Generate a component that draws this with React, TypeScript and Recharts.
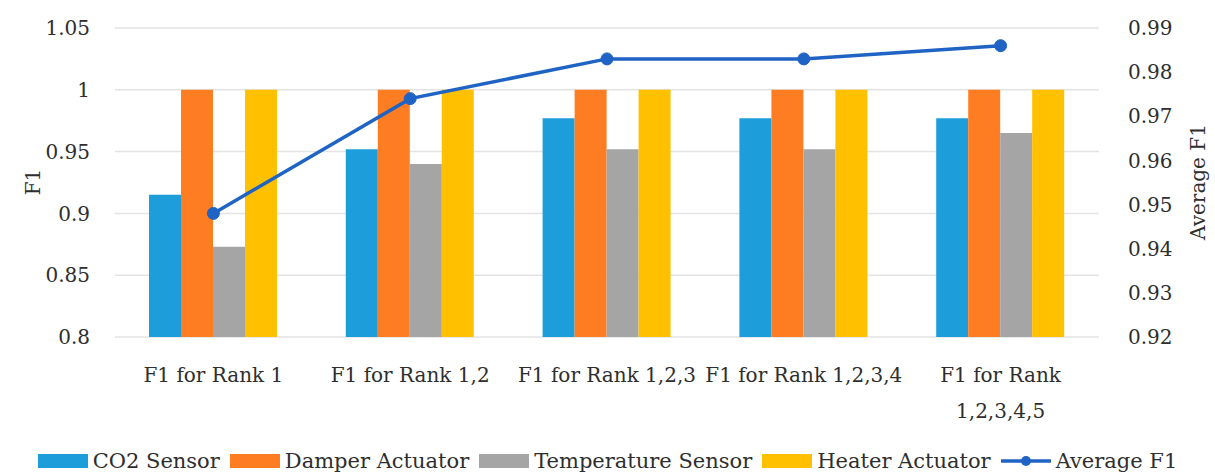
import React from 'react';
import { ComposedChart, Bar, Line, XAxis, YAxis, CartesianGrid, Legend } from 'recharts';

const categories = ['F1 for Rank 1', 'F1 for Rank 1,2', 'F1 for Rank 1,2,3', 'F1 for Rank 1,2,3,4', 'F1 for Rank\n1,2,3,4,5'];
const co2Sensor = [0.915, 0.952, 0.977, 0.977, 0.977];
const damperActuator = [1, 1, 1, 1, 1];
const temperatureSensor = [0.873, 0.94, 0.952, 0.952, 0.965];
const heaterActuator = [1, 1, 1, 1, 1];
const averageF1 = [0.948, 0.974, 0.983, 0.983, 0.986];
const leftTicks = [0.8, 0.85, 0.9, 0.95, 1, 1.05];
const rightTicks = [0.92, 0.93, 0.94, 0.95, 0.96, 0.97, 0.98, 0.99];

const data = categories.map((c, i) => ({
  name: c,
  co2: co2Sensor[i],
  damper: damperActuator[i],
  temp: temperatureSensor[i],
  heater: heaterActuator[i],
  avg: averageF1[i],
}));

const FONT = 'DejaVu Serif';
const TEXT = '#2e2e2e';
const FS = 20;

const COLORS = {
  co2: '#1E9DDB',
  damper: '#FF7D22',
  temp: '#A5A5A5',
  heater: '#FFC000',
  avg: '#1F63C4',
};

const XTick = (props: any) => {
  const { x, y, payload } = props;
  const lines = String(payload.value).split('\n');
  return (
    <g>
      {lines.map((l, i) => (
        <text key={i} x={x} y={y + 38 + i * 36} textAnchor="middle" dominantBaseline="central"
          style={{ fontFamily: FONT }} fontSize={FS} fill={TEXT}>{l}</text>
      ))}
    </g>
  );
};

const legendItems = [
  { key: 'co2', label: 'CO2 Sensor', type: 'rect' },
  { key: 'damper', label: 'Damper Actuator', type: 'rect' },
  { key: 'temp', label: 'Temperature Sensor', type: 'rect' },
  { key: 'heater', label: 'Heater Actuator', type: 'rect' },
  { key: 'avg', label: 'Average F1', type: 'line' },
];

const LegendContent = () => (
  <div style={{ display: 'flex', justifyContent: 'center', alignItems: 'center', fontFamily: FONT, fontSize: 21, color: TEXT, whiteSpace: 'nowrap', height: 30 }}>
    {legendItems.map((it, idx) => (
      <div key={it.key} style={{ display: 'flex', alignItems: 'center', marginRight: idx < legendItems.length - 1 ? 10 : 0 }}>
        <svg width={50} height={16} style={{ marginRight: 5 }}>
          {it.type === 'rect' ? (
            <rect x={0} y={1} width={50} height={14} fill={(COLORS as any)[it.key]} />
          ) : (
            <g>
              <line x1={0} y1={8} x2={50} y2={8} stroke={COLORS.avg} strokeWidth={3.5} />
              <circle cx={25} cy={8} r={5} fill={COLORS.avg} />
            </g>
          )}
        </svg>
        <span>{it.label}</span>
      </div>
    ))}
  </div>
);

const AxisTitle = (cx: number, cy: number, text: string) => (
  <text x={cx} y={cy} transform={`rotate(-90 ${cx} ${cy})`} textAnchor="middle" dominantBaseline="central"
    style={{ fontFamily: FONT }} fontSize={FS} fill={TEXT}>{text}</text>
);

export default function App() {
  return (
    <div style={{ position: 'absolute', left: 0, top: 0, background: '#fff' }}>
      <ComposedChart width={1215} height={473} data={data}
        margin={{ top: 28, right: 0, left: 0, bottom: 0 }} barGap={0}>
        <CartesianGrid yAxisId="left" vertical={false} stroke="#E3E3E3" strokeWidth={1.5} />
        <XAxis dataKey="name" height={106} tick={<XTick />} tickLine={false} axisLine={false}
          tickSize={0} tickMargin={0} interval={0} />
        <YAxis yAxisId="left" orientation="left" width={115} domain={[0.8, 1.05]} ticks={leftTicks}
          allowDataOverflow tickLine={false} axisLine={false} tickSize={0} tickMargin={25}
          tick={{ fontFamily: FONT, fontSize: FS, fill: TEXT }}
          label={{ content: () => AxisTitle(33, 182, 'F1') }} />
        <YAxis yAxisId="right" orientation="right" width={116} domain={[0.92, 0.99]} ticks={rightTicks}
          allowDataOverflow tickLine={false} axisLine={false} tickSize={0} tickMargin={29}
          tick={{ fontFamily: FONT, fontSize: FS, fill: TEXT }}
          label={{ content: () => AxisTitle(1198, 182, 'Average F1') }} />
        <Bar yAxisId="left" dataKey="co2" name="CO2 Sensor" fill={COLORS.co2} barSize={32} isAnimationActive={false} />
        <Bar yAxisId="left" dataKey="damper" name="Damper Actuator" fill={COLORS.damper} barSize={32} isAnimationActive={false} />
        <Bar yAxisId="left" dataKey="temp" name="Temperature Sensor" fill={COLORS.temp} barSize={32} isAnimationActive={false} />
        <Bar yAxisId="left" dataKey="heater" name="Heater Actuator" fill={COLORS.heater} barSize={32} isAnimationActive={false} />
        <Line yAxisId="right" dataKey="avg" name="Average F1" stroke={COLORS.avg} strokeWidth={3.5}
          dot={{ r: 6, fill: COLORS.avg, stroke: COLORS.avg, strokeWidth: 1 }} isAnimationActive={false} />
        <Legend content={<LegendContent />} wrapperStyle={{ left: 0, top: 446, width: 1215, height: 30 }} />
      </ComposedChart>
    </div>
  );
}
